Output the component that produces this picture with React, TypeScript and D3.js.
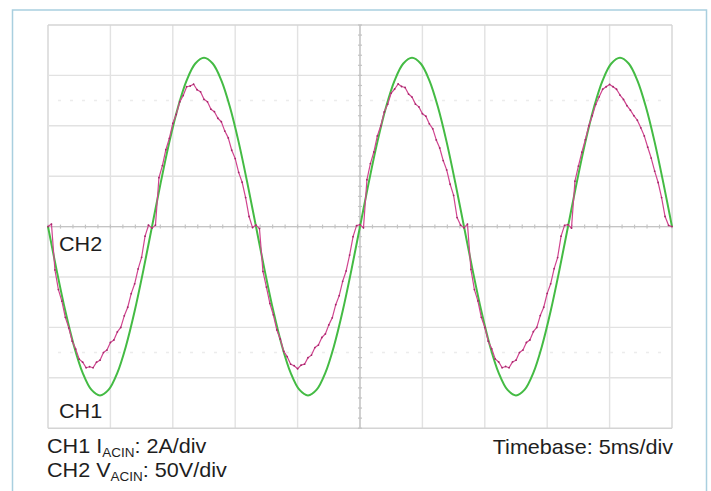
import React from 'react';
import * as d3 from 'd3';

// Scope settings (from the on-screen legend)
const timebaseMsPerDiv = 5;
const voltsPerDiv = 50;
const ampsPerDiv = 2;
const xDivisions = 10;
const yDivisions = 8;

// CH2 – AC input voltage (V), one sample every 15° of the 60 Hz line
const voltageSamples = [
  0, -43.4, -83.8, -118.4, -145.1, -161.8, -167.5, -161.8, -145.1, -118.4, -83.8, -43.4,
  0, 43.4, 83.8, 118.4, 145.1, 161.8, 167.5, 161.8, 145.1, 118.4, 83.8, 43.4,
  0, -43.4, -83.8, -118.4, -145.1, -161.8, -167.5, -161.8, -145.1, -118.4, -83.8, -43.4,
  0, 43.4, 83.8, 118.4, 145.1, 161.8, 167.5, 161.8, 145.1, 118.4, 83.8, 43.4,
  0, -43.4, -83.8, -118.4, -145.1, -161.8, -167.5, -161.8, -145.1, -118.4, -83.8, -43.4,
  0, 43.4, 83.8, 118.4, 145.1, 161.8, 167.5, 161.8, 145.1, 118.4, 83.8, 43.4,
  0,
];

// CH1 – AC input current (A), one sample every 6° of the line, per half cycle
const currentHalf1 = [0.0, 0.1, -1.72, -2.5, -2.96, -3.6, -4.02, -4.55, -4.86, -5.26, -5.38, -5.6, -5.56, -5.6, -5.38, -5.3, -5.0, -4.9, -4.6, -4.5, -4.18, -4.0, -3.54, -3.2, -2.66, -2.27, -1.68, -1.22, -0.38, 0.06];
const currentHalf2 = [-0.06, 0.06, 1.94, 2.42, 3.05, 3.5, 4.1, 4.45, 4.95, 5.2, 5.55, 5.58, 5.65, 5.43, 5.35, 5.05, 4.95, 4.66, 4.56, 4.3, 4.16, 3.79, 3.52, 3.03, 2.7, 2.15, 1.76, 1.15, 0.4, -0.04];
const currentHalf3 = [0.06, -0.08, -1.78, -2.4, -3.05, -3.5, -4.1, -4.46, -4.95, -5.16, -5.46, -5.52, -5.64, -5.5, -5.46, -5.2, -5.1, -4.8, -4.7, -4.4, -4.26, -3.9, -3.62, -3.1, -2.74, -2.17, -1.76, -1.13, -0.4, 0.04];
const currentHalf4 = [0.08, -0.05, 1.86, 2.5, 2.96, 3.6, 4.0, 4.55, 4.86, 5.3, 5.46, 5.66, 5.56, 5.52, 5.26, 5.14, 4.86, 4.75, 4.48, 4.38, 4.08, 3.88, 3.44, 3.12, 2.62, 2.25, 1.68, 1.24, 0.36, 0.06];
const currentHalf5 = [-0.05, 0.1, -1.7, -2.5, -2.95, -3.6, -4.0, -4.55, -4.85, -5.25, -5.37, -5.6, -5.55, -5.6, -5.37, -5.3, -5.0, -4.9, -4.6, -4.5, -4.17, -4.0, -3.53, -3.2, -2.65, -2.27, -1.67, -1.23, -0.38, 0.05];
const currentHalf6 = [0.08, -0.06, 1.8, 2.4, 2.95, 3.45, 4.0, 4.4, 4.85, 5.15, 5.45, 5.55, 5.64, 5.55, 5.45, 5.22, 5.05, 4.8, 4.62, 4.4, 4.22, 3.92, 3.6, 3.15, 2.72, 2.2, 1.75, 1.15, 0.4, 0.05];
const currentEnd = [0.0];

const currentSamples = [
  ...currentHalf1, ...currentHalf2, ...currentHalf3,
  ...currentHalf4, ...currentHalf5, ...currentHalf6, ...currentEnd,
];

const traceLabels = ['CH2', 'CH1'];
const legendLine1 = { ch: 'CH1 I', sub: 'ACIN', rest: ': 2A/div' };
const legendLine2 = { ch: 'CH2 V', sub: 'ACIN', rest: ': 50V/div' };
const timebaseLabel = 'Timebase: 5ms/div';

const W = 711;
const H = 491;
const plot = { left: 48, right: 672, top: 25, bottom: 428.2 };
const FONT = '"Liberation Sans", Arial, Helvetica, sans-serif';
const TEXT_STRETCH = 1.08;

export default function App() {
  const totalMs = xDivisions * timebaseMsPerDiv;
  const x = d3.scaleLinear().domain([0, totalMs]).range([plot.left, plot.right]);
  const xDiv = d3.scaleLinear().domain([0, xDivisions]).range([plot.left, plot.right]);
  const yDiv = d3.scaleLinear().domain([-yDivisions / 2, yDivisions / 2]).range([plot.bottom, plot.top]);
  const yV = d3.scaleLinear().domain([-(yDivisions / 2) * voltsPerDiv, (yDivisions / 2) * voltsPerDiv]).range([plot.bottom, plot.top]);
  const yA = d3.scaleLinear().domain([-(yDivisions / 2) * ampsPerDiv, (yDivisions / 2) * ampsPerDiv]).range([plot.bottom, plot.top]);

  const vPts: [number, number][] = voltageSamples.map((v, i) => [
    (i * totalMs) / (voltageSamples.length - 1), v,
  ]);
  const iPts: [number, number][] = currentSamples.map((v, i) => [
    (i * totalMs) / (currentSamples.length - 1), v,
  ]);

  const vLine = d3.line<[number, number]>()
    .x((d) => x(d[0]))
    .y((d) => yV(d[1]))
    .curve(d3.curveCatmullRom.alpha(0.5));
  const iLine = d3.line<[number, number]>()
    .x((d) => x(d[0]))
    .y((d) => yA(d[1]));

  const xGrid = d3.range(0, xDivisions + 1);
  const yGrid = d3.range(-yDivisions / 2, yDivisions / 2 + 1);
  const xMinor = d3.range(0, xDivisions + 0.001, 0.2);
  const yMinor = d3.range(-yDivisions / 2, yDivisions / 2 + 0.001, 0.2);
  const midX = xDiv(xDivisions / 2);
  const midY = yDiv(0);

  const textStyle = { fontFamily: FONT, fontSize: 20, fill: '#1e1e1e' } as const;

  const legend = (l: { ch: string; sub: string; rest: string }, tx: number, ty: number) => (
    <text transform={`translate(${tx},${ty}) scale(${TEXT_STRETCH},1)`} {...textStyle}>
      <tspan>{l.ch}</tspan>
      <tspan fontSize={12.5} dy={4}>{l.sub}</tspan>
      <tspan dy={-4}>{l.rest}</tspan>
    </text>
  );

  return (
    <svg width={W} height={H} style={{ position: 'absolute', left: 0, top: 0, background: '#fff' }}>
      <rect x={0} y={0} width={W} height={H} fill="#fff" />
      {/* outer frame */}
      <rect x={12.5} y={10} width={694} height={H + 20} fill="none" stroke="#a9cfdf" strokeWidth={1.5} />

      {/* grid */}
      <g>
        {xGrid.map((d) => (
          <line key={'gx' + d} x1={xDiv(d)} x2={xDiv(d)} y1={plot.top} y2={plot.bottom}
            stroke={d === 0 || d === xDivisions ? '#d4d4d4' : '#e2e2e2'} strokeWidth={1.4} />
        ))}
        {yGrid.map((d) => (
          <line key={'gy' + d} x1={plot.left} x2={plot.right} y1={yDiv(d)} y2={yDiv(d)}
            stroke={d === -yDivisions / 2 || d === yDivisions / 2 ? '#d4d4d4' : '#e2e2e2'} strokeWidth={1.4} />
        ))}
        {[2.5, -2.5].map((d) => (
          <line key={'cur' + d} x1={plot.left + 10} x2={plot.right - 10} y1={yDiv(d)} y2={yDiv(d)}
            stroke="#ececec" strokeWidth={1.5} strokeDasharray="3 9" />
        ))}
        {/* center cross */}
        <line x1={plot.left} x2={plot.right} y1={midY} y2={midY} stroke="#c4c4c4" strokeWidth={1.4} />
        <line x1={midX} x2={midX} y1={plot.top} y2={plot.bottom} stroke="#c4c4c4" strokeWidth={1.4} />
        {xMinor.map((d) => (
          <line key={'tx' + d} x1={xDiv(d)} x2={xDiv(d)} y1={midY - 2} y2={midY + 2} stroke="#c4c4c4" strokeWidth={1.2} />
        ))}
        {yMinor.map((d) => (
          <line key={'ty' + d} x1={midX - 2} x2={midX + 2} y1={yDiv(d)} y2={yDiv(d)} stroke="#c4c4c4" strokeWidth={1.2} />
        ))}
      </g>

      {/* traces */}
      <path d={vLine(vPts) ?? ''} fill="none" stroke="#44bb44" strokeWidth={2} strokeLinejoin="round" />
      <path d={iLine(iPts) ?? ''} fill="none" stroke="#d0448f" strokeWidth={1.2} strokeLinejoin="round" />
      {iPts.map((d, i) => (
        <circle key={'ip' + i} cx={x(d[0])} cy={yA(d[1])} r={0.9} fill="#a3286a" />
      ))}

      {/* trace labels */}
      <text transform={`translate(59,251) scale(${TEXT_STRETCH},1)`} {...textStyle}>{traceLabels[0]}</text>
      <text transform={`translate(59,418) scale(${TEXT_STRETCH},1)`} {...textStyle}>{traceLabels[1]}</text>

      {/* legend */}
      {legend(legendLine1, 47, 453)}
      {legend(legendLine2, 47, 476.5)}
      <text transform={`translate(673,454) scale(${TEXT_STRETCH},1)`} textAnchor="end" {...textStyle}>{timebaseLabel}</text>
    </svg>
  );
}
